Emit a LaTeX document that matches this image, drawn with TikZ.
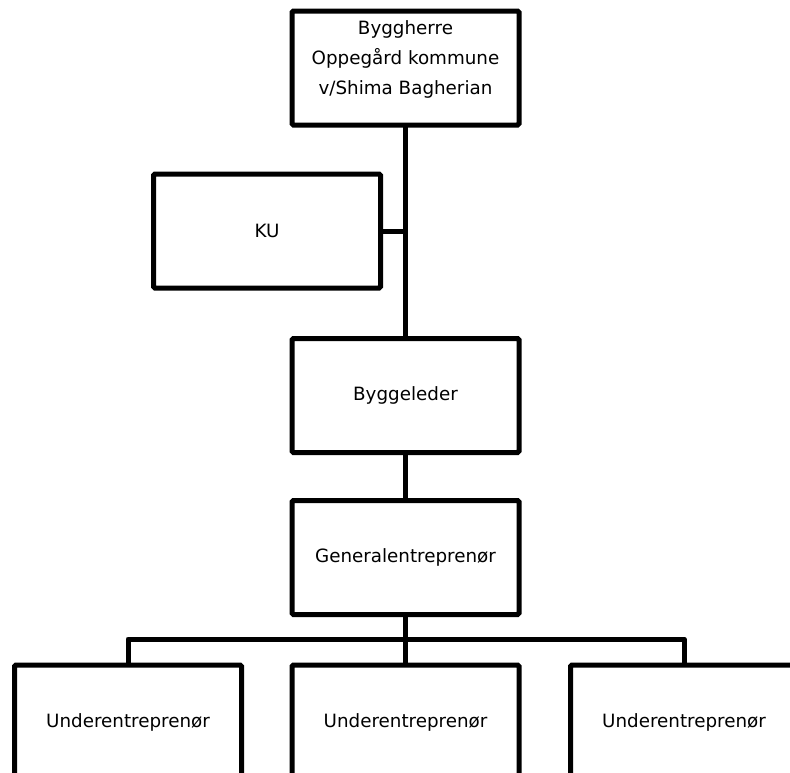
\documentclass[tikz,border=0pt]{standalone}
\usepackage{fontspec}
\setmainfont{DejaVu Sans}
\begin{document}
\begin{tikzpicture}[x=1pt,y=-1pt,
  box/.style={draw=black, line width=5pt, rounded corners=1.5pt, fill=white,
    minimum width=227pt, minimum height=114pt, inner sep=0pt, outer sep=0pt,
    font=\fontsize{18.3}{30}\selectfont},
  lbl/.style={align=center, inner sep=0pt, font=\fontsize{18.3}{30}\selectfont},
  conn/.style={line width=5pt, line join=round}]
\useasboundingbox (0,0) rectangle (790,772);
\clip (0,0) rectangle (790,772);
% nodes
\node[box] (bh) at (405.5,68) {};
\node[lbl, anchor=north] (bhtext) at (405.5,20.5) {Byggherre\\Oppegård kommune\\v/Shima Bagherian};
\node[box] (ku) at (267,231) {KU};
\node[box] (bl) at (405.5,395.5) {Byggeleder};
\node[box] (ge) at (405.5,557.5) {Generalentreprenør};
\node[box] (u1) at (128,722) {Underentreprenør};
\node[box] (u2) at (405.5,722) {Underentreprenør};
\node[box] (u3) at (684,722) {Underentreprenør};
% connectors
\coordinate (kuj) at (405.5,231);
\coordinate (bar) at (405.5,639);
\draw[conn] (bh.south) -- (bl.north);
\draw[conn] (ku.east) -- (kuj);
\draw[conn] (bl.south) -- (ge.north);
\draw[conn] (ge.south) -- (bar);
\draw[conn] (u1.north) |- (bar) -| (u3.north);
\draw[conn] (bar) -- (u2.north);
\end{tikzpicture}
\end{document}
